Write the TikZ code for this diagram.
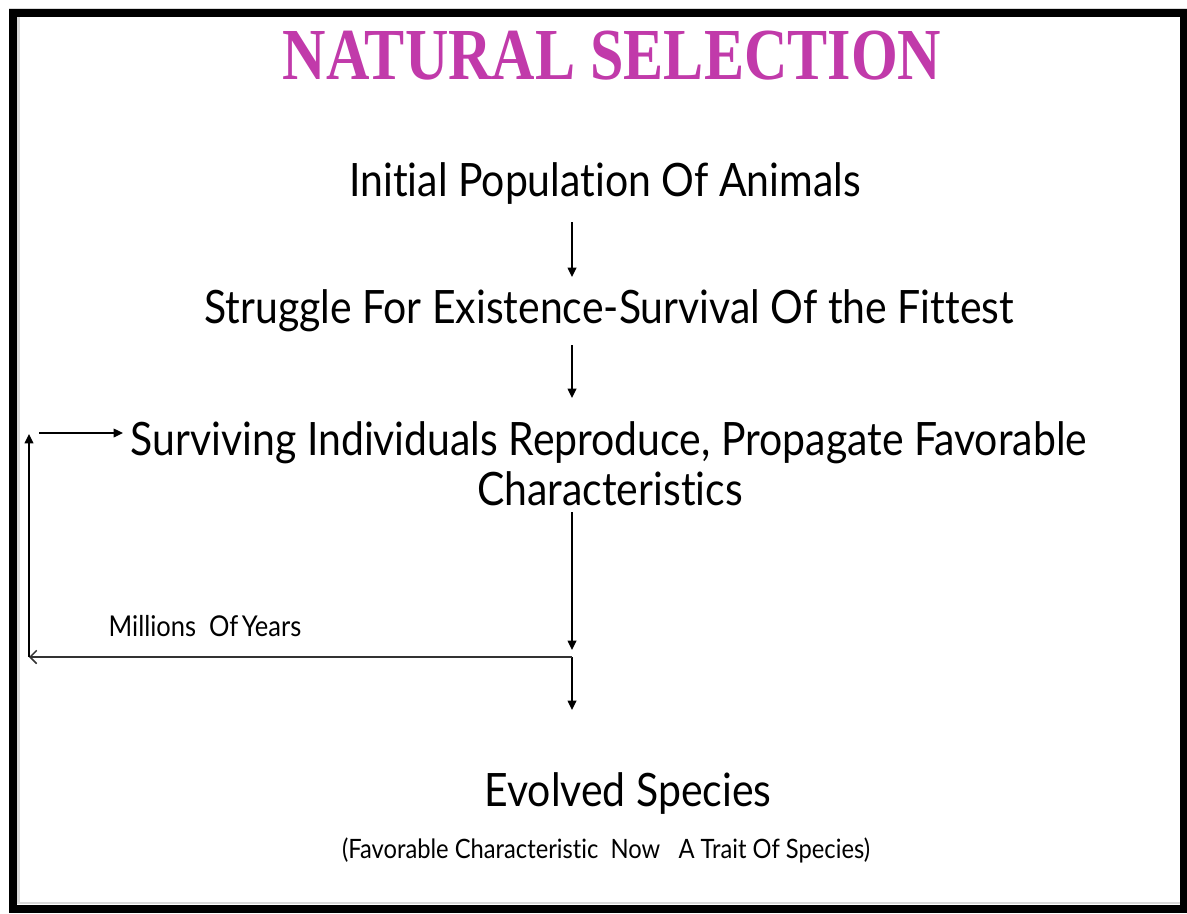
\documentclass[tikz,border=0pt]{standalone}
\usepackage{fontspec}
\setmainfont{Lato}[FakeStretch=0.89, Ligatures=NoCommon]
\newfontfamily\titlefont{Liberation Serif}[FakeStretch=0.82]
\usetikzlibrary{arrows.meta}
\definecolor{titlepink}{RGB}{193,58,170}

\begin{document}
\begin{tikzpicture}[x=0.75pt,y=-0.75pt,
  every node/.style={inner sep=0pt, outer sep=0pt},
  stage/.style={font=\fontsize{34.5}{40}\selectfont, text height=24.75pt, text depth=6.75pt, anchor=base},
  note/.style={font=\fontsize{20}{24}\selectfont, anchor=base},
  flow/.style={line width=1.1pt, -{Triangle[length=7pt,width=6.5pt]}},
  back/.style={line width=1.1pt, black!80, -{Straight Barb[length=5pt,width=10pt]}},
]
\useasboundingbox (0,0) rectangle (1187,913);

% frame with its soft shadow
\draw[gray!30, line width=0.75pt] (9,8.5) -- (1187,8.5);
\draw[gray!30, line width=2.2pt] (18.5,17) -- (18.5,904);
\draw[gray!30, line width=2.2pt] (17,903) -- (1180,903);
\draw[line width=6pt] (13,13) rectangle (1184,909);

% title
\node[anchor=base, text=titlepink, font=\titlefont\bfseries\fontsize{55}{60}\selectfont] (title) at (612,80) {NATURAL SELECTION};

% stages
\node[stage] (init)  at (605,196) {Initial Population Of Animals};
\node[stage] (strug) at (609,323) {Struggle For Existence-Survival Of the Fittest};
\node[stage] (surv)  at (609,455) {Surviving Individuals Reproduce, Propagate Favorable};
\node[stage] (char)  at (610,505) {Characteristics};
\node[stage] (evol)  at (628,806) {Evolved Species};
\node[note]  (fav)   at (606,858) {(Favorable Characteristic~~Now~~~A Trait Of Species)};
\node[note, font=\fontsize{21.5}{24}\selectfont] (years) at (205,636) {Millions\hspace{0.45em}Of\hspace{0.12em}Years};

% guide points of the flow
\coordinate (spine)  at (572,0);
\coordinate (junc)   at (572,657);
\coordinate (loopbl) at (29,657);
\coordinate (looptl) at (29,434);
\coordinate (loopin) at (39,433);

% main flow
\draw[flow, shorten <=12.75pt, shorten >=9.75pt] (init.south -| spine) -- (strug.north -| spine);
\draw[flow, shorten <=9.75pt, shorten >=18pt] (strug.south -| spine) -- (surv.north -| spine);
\draw[flow, shorten <=-1.5pt, shorten >=5.25pt] (char.south -| spine) -- (junc);
\draw[flow, shorten >=47.25pt] (junc) -- (evol.north -| spine);

% feedback loop over millions of years
\draw[back] (junc) -- (loopbl);
\draw[flow] (loopbl) -- (looptl);
\draw[flow, shorten >=6pt] (loopin) -- (surv.west |- loopin);
\end{tikzpicture}
\end{document}
